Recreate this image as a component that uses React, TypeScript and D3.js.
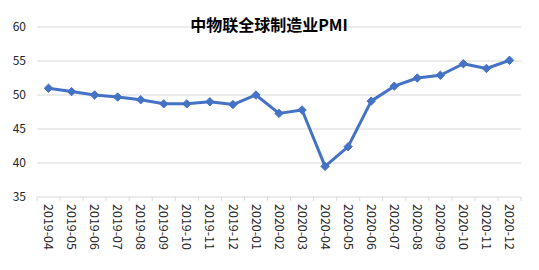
import React from "react";
import * as d3 from "d3";

const categories = [
  "2019-04", "2019-05", "2019-06", "2019-07", "2019-08", "2019-09", "2019-10",
  "2019-11", "2019-12", "2020-01", "2020-02", "2020-03", "2020-04", "2020-05",
  "2020-06", "2020-07", "2020-08", "2020-09", "2020-10", "2020-11", "2020-12",
];
const pmiValues = [
  51.0, 50.5, 50.0, 49.7, 49.3, 48.7, 48.7, 49.0, 48.6, 50.0, 47.3, 47.8,
  39.5, 42.4, 49.1, 51.3, 52.5, 52.9, 54.6, 53.9, 55.1,
];
const yTicks = [35, 40, 45, 50, 55, 60];
const title = "中物联全球制造业PMI";

const W = 539;
const H = 270;
const left = 37;
const right = 521;
const top = 27;
const bottom = 197;

export default function App() {
  const x = d3.scaleBand<string>().domain(categories).range([left, right]).padding(0);
  const y = d3.scaleLinear().domain([35, 60]).range([bottom, top]);
  const cx = (c: string) => (x(c) as number) + x.bandwidth() / 2;
  const line = d3
    .line<number>()
    .x((_, i) => cx(categories[i]))
    .y((d) => y(d));
  const r = 4.2;
  const diamond = `M0,${-r}L${r},0L0,${r}L${-r},0Z`;
  const font = "'Noto Sans CJK SC', 'Noto Sans', sans-serif";

  return (
    <svg width={W} height={H} style={{ position: "absolute", left: 0, top: 0, background: "#fff" }}>
      <rect width={W} height={H} fill="#fff" />
      {yTicks.map((t) => (
        <g key={t}>
          <line x1={left} x2={right} y1={y(t)} y2={y(t)} stroke="#d9d9d9" strokeWidth={1} />
          <text x={26} y={y(t)} dy="0.35em" textAnchor="end" fontSize={12} fontFamily={font} fill="#262626">
            {t}
          </text>
        </g>
      ))}
      {categories.concat(["end"]).map((c, i) => {
        const xx = i < categories.length ? (x(c) as number) : right;
        return <line key={"tk" + i} x1={xx} x2={xx} y1={bottom} y2={bottom + 4} stroke="#d9d9d9" strokeWidth={1} />;
      })}
      {categories.map((c) => (
        <text
          key={c}
          transform={`translate(${cx(c)},${204}) rotate(90)`}
          dy="0.35em"
          textAnchor="start"
          fontSize={12.5}
          fontFamily={font}
          fill="#262626"
        >
          {c}
        </text>
      ))}
      <path d={line(pmiValues) as string} fill="none" stroke="#4472C4" strokeWidth={3} strokeLinejoin="round" />
      {pmiValues.map((v, i) => (
        <path key={i} d={diamond} transform={`translate(${cx(categories[i])},${y(v)})`} fill="#4472C4" stroke="#4472C4" strokeWidth={1} />
      ))}
      <text x={269} y={25} dy="0.35em" textAnchor="middle" fontSize={16} fontWeight="bold" fontFamily={font} fill="#000">
        {title}
      </text>
    </svg>
  );
}
